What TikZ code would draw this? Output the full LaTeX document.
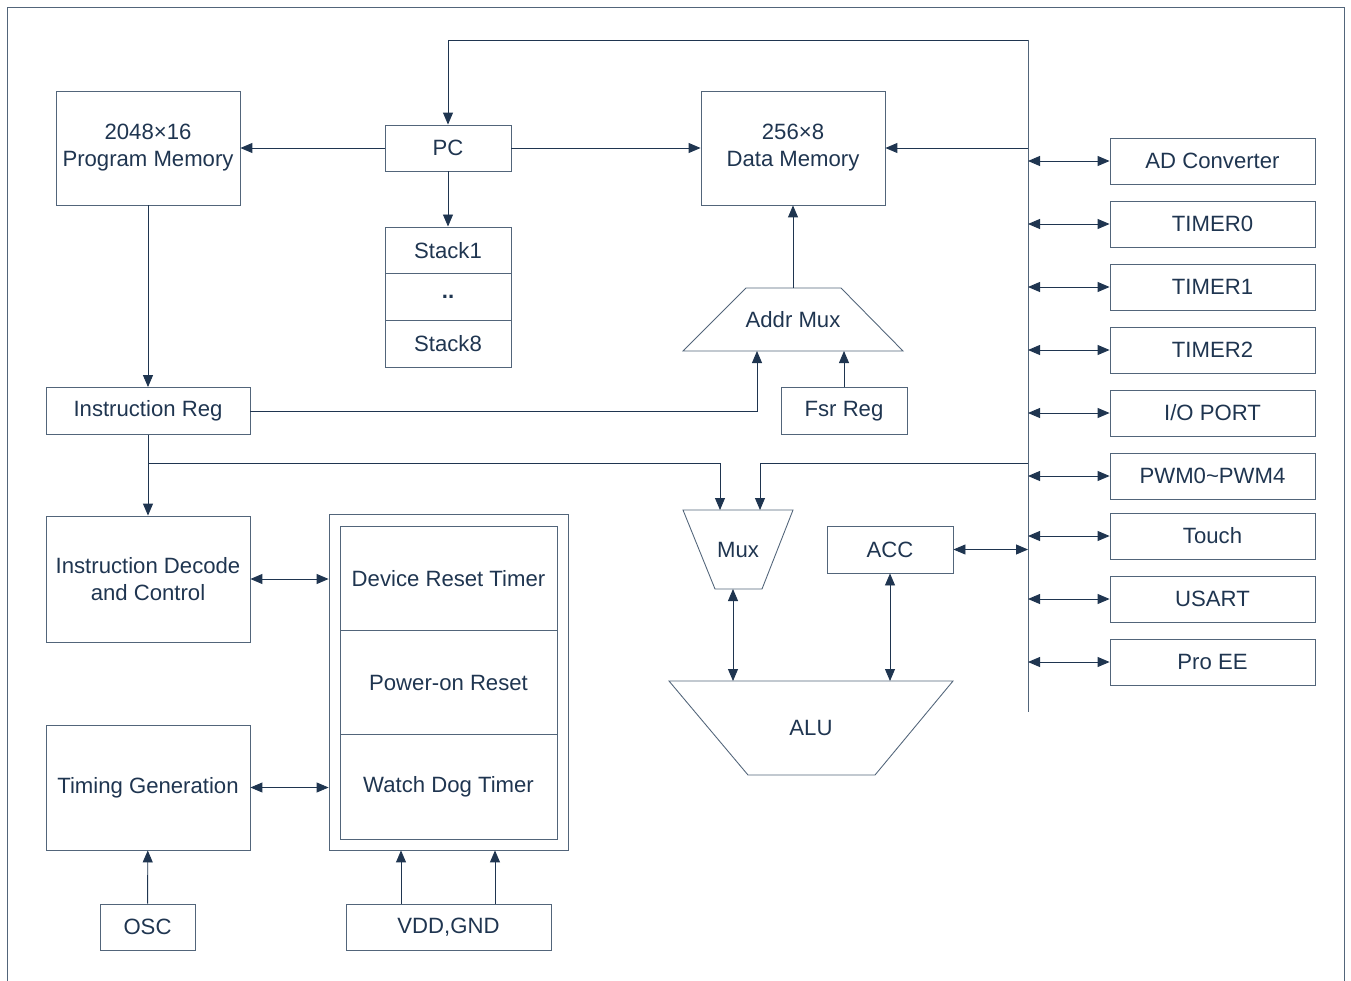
\documentclass[tikz,border=0pt]{standalone}
\usepackage{fontspec}
\setmainfont{Liberation Sans}
\usetikzlibrary{arrows.meta}
\definecolor{navy}{HTML}{1F3550}
\definecolor{edge}{HTML}{52657A}

\begin{document}
\begin{tikzpicture}[x=0.02cm, y=-0.02cm, line width=0.5pt,
    every node/.style={font=\fontsize{12.6}{15.3}\selectfont, text=navy},
    box/.style={draw=edge, inner sep=0pt, align=center},
    link/.style={draw=navy, -{Triangle[length=0.24cm,width=0.2cm]}},
    both/.style={draw=navy, {Triangle[length=0.24cm,width=0.2cm]}-{Triangle[length=0.24cm,width=0.2cm]}}]
  \useasboundingbox (0,0) rectangle (1351,980);
  \draw[edge] (7,985) -- (7,7) -- (1344,7) -- (1344,985);

  % memories and program counter
  \node[box, minimum width=3.68cm, minimum height=2.28cm] (pmem) at (148,148) {2048×16\\Program Memory};
  \node[box, minimum width=2.52cm, minimum height=0.92cm] (pc) at (448,148) {PC};
  \node[box, minimum width=3.68cm, minimum height=2.28cm] (dmem) at (793,148) {256×8\\Data Memory};
  \node[box, minimum width=2.52cm, minimum height=0.934cm] (stack1) at (448,250.3) {Stack1};
  \node[box, minimum width=2.52cm, minimum height=0.934cm] (stackn) at (448,297) {\raisebox{-2pt}{\textbf{..}}};
  \node[box, minimum width=2.52cm, minimum height=0.934cm] (stack8) at (448,343.7) {Stack8};

  % address path
  \draw[edge] (746,288) coordinate (am top) -- (841,288) -- (903,351) -- (683,351) coordinate (am bot) -- cycle;
  \node (addrmux) at (793,319.5) {Addr Mux};
  \coordinate (am in) at (757,351);
  \node[box, minimum width=2.52cm, minimum height=0.94cm] (fsr) at (844,411) {Fsr Reg};
  \node[box, minimum width=4.08cm, minimum height=0.94cm] (ireg) at (148,411) {Instruction Reg};

  % data path
  \draw[edge] (683,510) -- (793,510) -- (762,589) -- (715,589) -- cycle;
  \node (mux) at (738,549.5) {Mux};
  \coordinate (mux in1) at (720,510);
  \coordinate (mux in2) at (760,510);
  \coordinate (mux out) at (733,589);
  \node[box, minimum width=2.52cm, minimum height=0.94cm] (acc) at (890,549.5) {ACC};
  \draw[edge] (669,681) coordinate (alu top) -- (953,681) -- (875,775) -- (748,775) -- cycle;
  \node (alu) at (811,728) {ALU};

  % control and reset
  \node[box, minimum width=4.08cm, minimum height=2.52cm] (idec) at (148,579) {Instruction Decode\\and Control};
  \node[box, minimum width=4.08cm, minimum height=2.5cm] (tgen) at (148,787.5) {Timing Generation};
  \node[box, minimum width=4.78cm, minimum height=6.72cm] (rst) at (448.5,682) {};
  \node[box, minimum width=4.34cm, minimum height=2.087cm] (drt) at (448.5,578.2) {Device Reset Timer};
  \node[box, minimum width=4.34cm, minimum height=2.087cm] (por) at (448.5,682.5) {Power-on Reset};
  \node[box, minimum width=4.34cm, minimum height=2.087cm] (wdt) at (448.5,786.8) {Watch Dog Timer};
  \node[box, minimum width=1.9cm, minimum height=0.92cm] (osc) at (147.5,927) {OSC};
  \node[box, minimum width=4.1cm, minimum height=0.92cm] (vdd) at (448.5,927) {VDD,GND};

  % peripheral bus
  \coordinate (bus) at (1028,40);
  \coordinate (busend) at (1028,712);
  \draw[edge] (bus) -- (busend);
  \foreach \name/\label/\y in {adc/AD Converter/161, tmr0/TIMER0/224, tmr1/TIMER1/287,
      tmr2/TIMER2/350, port/{I/O PORT}/413, pwm/PWM0\textasciitilde PWM4/476,
      touch/Touch/536, usart/USART/599, proee/Pro EE/662} {
    \node[box, minimum width=4.1cm, minimum height=0.92cm] (\name) at (1212.5,\y) {\label};
    \draw[both] (\name.west -| bus) -- (\name.west);
  }

  % connectors
  \draw[link] (bus) -- (bus -| pc) -- (pc);
  \draw[link] (pc) -- (pmem);
  \draw[link] (pc) -- (dmem);
  \draw[link] (pc) -- (stack1);
  \draw[link] (bus |- dmem) -- (dmem);
  \draw[link] (addrmux |- am top) -- (dmem);
  \draw[link] (fsr) -- (fsr |- am bot);
  \draw[link] (ireg.east) -| (am in);
  \draw[link] (pmem) -- (ireg);
  \draw[link] (ireg) -- (idec);
  \coordinate (tap) at ([yshift=-0.58cm]ireg.south);
  \draw[link] (tap) -| (mux in1);
  \draw[link] (bus |- tap) -| (mux in2);
  \draw[both] (acc) -- (acc -| bus);
  \draw[both] (mux out) -- (mux out |- alu top);
  \draw[both] (acc) -- (acc |- alu top);
  \draw[both] (idec) -- (idec -| rst.west);
  \draw[both] (tgen) -- (tgen -| rst.west);
  \draw[link] (osc) -- (tgen);
  \draw[link] ([xshift=-0.95cm]vdd.north) -- ([xshift=-0.95cm]vdd.north |- rst.south);
  \draw[link] ([xshift=0.93cm]vdd.north) -- ([xshift=0.93cm]vdd.north |- rst.south);
\end{tikzpicture}
\end{document}
